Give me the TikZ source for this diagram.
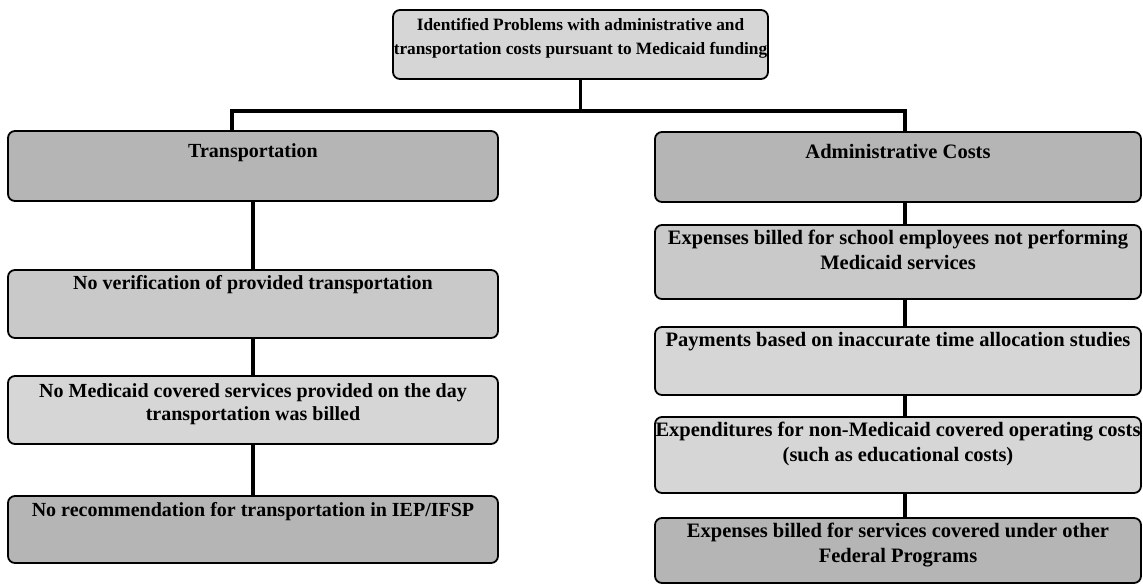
\documentclass[tikz,border=0pt]{standalone}
\usepackage{fontspec}
\setmainfont{Liberation Serif}
\tikzset{
    caja/.style={draw, line width=1.8pt, rounded corners=7pt},
    clara/.style={caja, fill=gray!32},
    media/.style={caja, fill=gray!42},
    oscura/.style={caja, fill=gray!58},
    texto/.style={anchor=north, align=center, inner sep=0pt,
        font=\fontsize{20}{23}\selectfont\bfseries},
    textod/.style={texto, font=\fontsize{20.5}{25}\selectfont\bfseries},
    linea/.style={line width=3.2pt}
}
\begin{document}
\begin{tikzpicture}[x=1pt, y=-1pt]
    % parámetros
    \def\xl{253}   % columna izquierda
    \def\xr{898}   % columna derecha
    \def\wl{490}   % ancho izquierda
    \def\wr{486}   % ancho derecha

    \useasboundingbox (0,0) rectangle (1143,587);

    %—————— caja superior ——————
    \node[clara, minimum width=375pt, minimum height=69pt] (top) at (580.5,44.5) {};
    \node[texto, font=\fontsize{17.3}{24.5}\selectfont\bfseries] at ([yshift=-9pt]top.north) {Identified Problems with administrative and\\transportation costs pursuant to Medicaid funding};

    %—————— columna izquierda ——————
    \node[oscura, minimum width=\wl pt, minimum height=70pt] (tr) at (\xl,166) {};
    \node[texto] at ([yshift=-13pt]tr.north) {Transportation};

    \node[media, minimum width=\wl pt, minimum height=68pt] (l1) at (\xl,304) {};
    \node[texto] at ([yshift=-6pt]l1.north) {No verification of provided transportation};

    \node[clara, minimum width=\wl pt, minimum height=68pt] (l2) at (\xl,410) {};
    \node[texto] at ([yshift=-8pt]l2.north) {No Medicaid covered services provided on the day\\transportation was billed};

    \node[oscura, minimum width=\wl pt, minimum height=67pt] (l3) at (\xl,529.5) {};
    \node[texto] at ([yshift=-7pt]l3.north) {No recommendation for transportation in IEP/IFSP};

    %—————— columna derecha ——————
    \node[oscura, minimum width=\wr pt, minimum height=70pt] (adm) at (\xr,167) {};
    \node[textod] at ([yshift=-13pt]adm.north) {Administrative Costs};

    \node[media, minimum width=\wr pt, minimum height=74pt] (r1) at (\xr,262) {};
    \node[textod] at ([yshift=-6pt]r1.north) {Expenses billed for school employees not performing\\Medicaid services};

    \node[clara, minimum width=\wr pt, minimum height=68pt] (r2) at (\xr,361) {};
    \node[textod] at ([yshift=-6pt]r2.north) {Payments based on inaccurate time allocation studies};

    \node[clara, minimum width=\wr pt, minimum height=76pt] (r3) at (\xr,455) {};
    \node[textod] at ([yshift=-6pt]r3.north) {Expenditures for non-Medicaid covered operating costs\\(such as educational costs)};

    \node[oscura, minimum width=\wr pt, minimum height=65pt] (r4) at (\xr,550.5) {};
    \node[textod] at ([yshift=-6pt]r4.north) {Expenses billed for services covered under other\\Federal Programs};

    %—————— conectores ——————
    \draw[linea] (top.south) -- ++(0,31) coordinate (rama);
    \draw[linea] (rama) -| ([xshift=-21pt]tr.north);
    \draw[linea] (rama) -| ([xshift=7pt]adm.north);

    \draw[linea] (tr) -- (l1);
    \draw[linea] (l1) -- (l2);
    \draw[linea] (l2) -- (l3);

    \draw[linea] ([xshift=7pt]adm.south) -- ([xshift=7pt]r1.north);
    \draw[linea] ([xshift=7pt]r1.south) -- ([xshift=7pt]r2.north);
    \draw[linea] ([xshift=7pt]r2.south) -- ([xshift=7pt]r3.north);
    \draw[linea] ([xshift=7pt]r3.south) -- ([xshift=7pt]r4.north);
\end{tikzpicture}
\end{document}
